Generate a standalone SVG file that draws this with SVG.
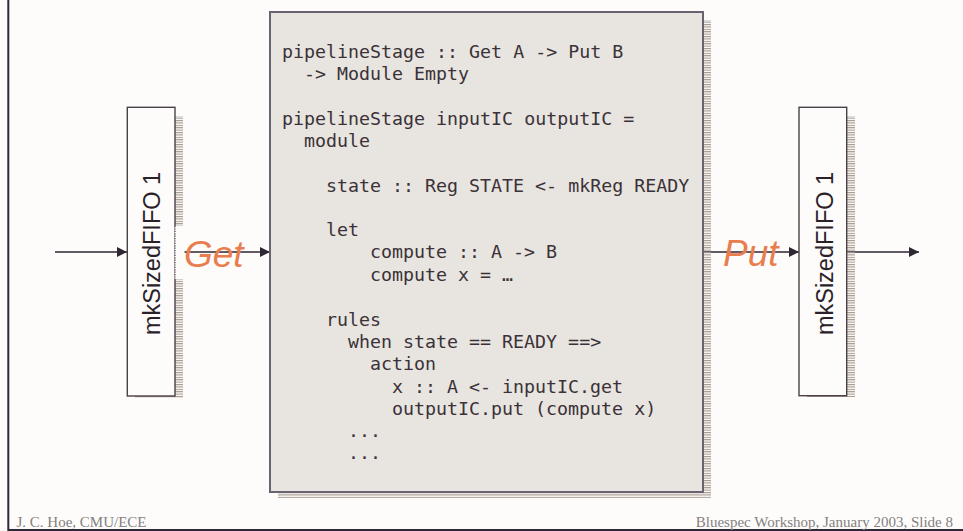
<svg xmlns="http://www.w3.org/2000/svg" width="963" height="531" viewBox="0 0 963 531">
  <defs>
    <style>
      .code { font-family: "DejaVu Sans Mono", "Liberation Mono", monospace; font-size: 18.3px; fill: #3a3238; }
      .fifo-label { font-family: "Liberation Sans", Arial, sans-serif; font-size: 23.5px; fill: #2a2228; }
      .port { font-family: "Liberation Sans", Arial, sans-serif; font-size: 37px; font-style: italic; fill: #ea7d4e; }
      .foot { font-family: "Liberation Serif", "Times New Roman", serif; font-size: 15px; fill: #858080; }
      .fifo-box { fill: #fdfcfb; stroke: #4a4048; stroke-width: 1.4; }
      .wire { stroke: #2e2630; stroke-width: 1.5; fill: none; marker-end: url(#arrow); }
    </style>
    <pattern id="hatch" patternUnits="userSpaceOnUse" width="6" height="2.4">
      <rect x="0" y="0" width="6" height="1.1" fill="#a4968a"/>
    </pattern>
    <marker id="arrow" viewBox="0 0 10 10" refX="10" refY="5" markerWidth="10" markerHeight="10" markerUnits="userSpaceOnUse" orient="auto">
      <path d="M0,0 L10,5 L0,10 Z" fill="#2e2630"/>
    </marker>
  </defs>

  <rect width="963" height="531" fill="#fdfcfb"/>

  <!-- slide frame -->
  <path d="M8.3,0 V530 H963" fill="none" stroke="#302838" stroke-width="2"/>

  <!-- connectors -->
  <g id="connectors">
    <line class="wire" x1="55" y1="252" x2="127" y2="252"/>
    <line class="wire" x1="175" y1="252" x2="270" y2="252"/>
    <line class="wire" x1="703" y1="252" x2="799" y2="252"/>
    <line class="wire" x1="847" y1="252" x2="919" y2="252"/>
  </g>

  <!-- input FIFO -->
  <g id="fifo-in">
    <rect x="135" y="116" width="48" height="282" fill="url(#hatch)"/>
    <rect class="fifo-box" x="127.3" y="107.3" width="47.7" height="288.7"/>
    <rect x="174.5" y="226" width="10" height="53" fill="#fdfcfb"/>
    <line x1="175" y1="226" x2="175" y2="279" stroke="#4a4048" stroke-width="1.2" stroke-dasharray="1.2,1.2"/>
    <text class="fifo-label" transform="translate(160,253.5) rotate(-90)" text-anchor="middle">mkSizedFIFO 1</text>
  </g>

  <!-- pipeline stage module -->
  <g id="stage">
    <rect x="278" y="20" width="433" height="478" fill="url(#hatch)"/>
    <rect x="270" y="12" width="433" height="480" fill="#e8e4df" stroke="#6a6270" stroke-width="2"/>
    <text class="code" x="282" y="58">pipelineStage :: Get A -&gt; Put B</text>
    <text class="code" x="304" y="80">-&gt; Module Empty</text>
    <text class="code" x="282" y="125">pipelineStage inputIC outputIC =</text>
    <text class="code" x="304" y="147">module</text>
    <text class="code" x="326" y="192">state :: Reg STATE &lt;- mkReg READY</text>
    <text class="code" x="326" y="236">let</text>
    <text class="code" x="370" y="258">compute :: A -&gt; B</text>
    <text class="code" x="370" y="281">compute x = …</text>
    <text class="code" x="326" y="326">rules</text>
    <text class="code" x="348" y="348">when state == READY ==&gt;</text>
    <text class="code" x="370" y="370">action</text>
    <text class="code" x="392" y="393">x :: A &lt;- inputIC.get</text>
    <text class="code" x="392" y="415">outputIC.put (compute x)</text>
    <text class="code" x="348" y="437">...</text>
    <text class="code" x="348" y="459">...</text>
  </g>

  <!-- output FIFO -->
  <g id="fifo-out">
    <rect x="807" y="116" width="48" height="281" fill="url(#hatch)"/>
    <rect class="fifo-box" x="799" y="107.3" width="47.7" height="288.4"/>
    <text class="fifo-label" transform="translate(832.5,253.5) rotate(-90)" text-anchor="middle">mkSizedFIFO 1</text>
  </g>

  <!-- port labels -->
  <g id="port-get">
    <text class="port" x="184" y="267">Get</text>
  </g>
  <g id="port-put">
    <text class="port" x="723" y="266">Put</text>
  </g>

  <!-- footer -->
  <text class="foot" x="16.5" y="526.5">J. C. Hoe, CMU/ECE</text>
  <text class="foot" x="953" y="526.5" text-anchor="end">Bluespec Workshop, January 2003, Slide 8</text>
</svg>
